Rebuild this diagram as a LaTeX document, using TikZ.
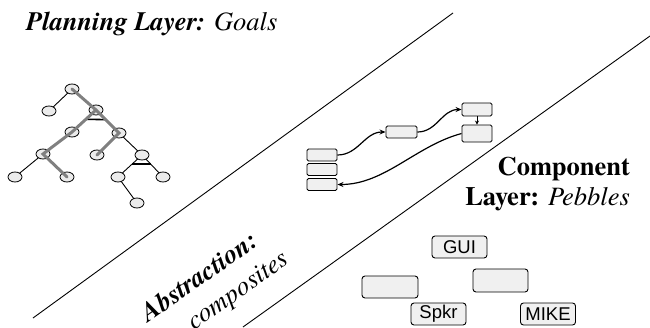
\documentclass[tikz,border=0pt]{standalone}
\usepackage{fontspec}
\setmainfont{texgyretermes}[Extension=.otf,UprightFont=*-regular,BoldFont=*-bold,ItalicFont=*-italic,BoldItalicFont=*-bolditalic]
\newfontfamily\boxfont{Liberation Sans}
\usetikzlibrary{arrows.meta,shapes.geometric,calc}
\begin{document}
\begin{tikzpicture}[x=1pt,y=1pt,
  tn/.style={ellipse,draw=black,line width=0.8pt,fill=black!8,minimum width=14pt,minimum height=10pt,inner sep=0pt},
  tedge/.style={draw=black,line width=0.9pt},
  hl/.style={draw=black!50,line width=3pt,line cap=round},
  andbar/.style={draw=black,line width=1.6pt},
  sbox/.style={draw=black,rounded corners=1.5pt,fill=black!6,line width=0.9pt,minimum width=30pt,minimum height=12pt,inner sep=0pt},
  cbox/.style={draw=black,rounded corners=3pt,fill=black!6,line width=0.9pt,minimum width=55pt,minimum height=22pt,inner sep=0pt,font=\boxfont\fontsize{18.5}{20}\selectfont},
  arr/.style={draw=black,line width=1.2pt,-{Stealth[length=6pt,width=5pt]}},
  big/.style={inner sep=0pt,font=\fontsize{26.5}{30}\selectfont}
]
\useasboundingbox (0,0) rectangle (650,-327);
% diagonal separators
\coordinate (l1a) at (33,-318);
\coordinate (l1b) at (453,-13);
\coordinate (l2a) at (243,-327);
\coordinate (l2b) at (650,-36);
\draw[line width=0.9pt] (l1a) -- (l1b);
\draw[line width=0.9pt] (l2a) -- (l2b);

% titles
\node[big,anchor=base west] (title) at (26,-30) {{\bfseries\itshape Planning Layer:} {\itshape Goals}};
\node[big,anchor=base east] (comp1) at (630,-175) {\bfseries Component};
\node[big,anchor=base east] (comp2) at (630,-205) {{\bfseries Layer:} {\itshape Pebbles}};
\node[big,rotate=35] (abs1) at (199,-276) {\bfseries\itshape Abstraction:};
\node[big,rotate=35] (abs2) at (239,-292) {\itshape composites};

% goal tree
\coordinate (A) at (72,-89);
\coordinate (B) at (49,-111);
\coordinate (C) at (96,-110);
\coordinate (D) at (72,-132);
\coordinate (E) at (119,-133);
\coordinate (F) at (43,-154);
\coordinate (G) at (97,-155);
\coordinate (H) at (142,-155);
\coordinate (I) at (15,-177);
\coordinate (J) at (67,-177);
\coordinate (K) at (118,-177);
\coordinate (L) at (163,-177);
\coordinate (M) at (137,-203);
\draw[tedge] (A) -- (B) (A) -- (C) (C) -- (D) (C) -- (E) (D) -- (F) (E) -- (G) (E) -- (H)
  (F) -- (I) (F) -- (J) (H) -- (K) (H) -- (L) (K) -- (M);
\draw[andbar] ($(C)!0.42!(D)$) -- ($(C)!0.42!(E)$);
\draw[andbar] ($(H)!0.42!(K)$) -- ($(H)!0.42!(L)$);
\foreach \n in {A,B,C,D,E,F,G,H,I,J,K,L,M} {\node[tn] (n\n) at (\n) {};}
\draw[hl] (nA.center) -- (nC.center) -- (nE.center) -- (nG.center);
\draw[hl] (nC.center) -- (nD.center) -- (nF.center) -- (nJ.center);

% composite pebble diagram
\node[sbox] (s1) at (322,-155) {};
\node[sbox] (s2) at (322,-169.5) {};
\node[sbox] (s3) at (322,-184.5) {};
\node[sbox,minimum width=31pt] (m) at (401.5,-132) {};
\node[sbox,minimum height=13pt] (t) at (477,-109.5) {};
\node[sbox,minimum height=17pt] (r) at (477,-133.5) {};
\draw[arr] (s1.east) to[out=0,in=180] (m.west);
\draw[arr] (m.east) to[out=0,in=180] (t.west);
\draw[draw=black,line width=1pt,-{Stealth[length=4pt,width=4pt]}] (t.south) -- (r.north);
\draw[arr] (r.west) to[out=195,in=0,looseness=0.9] (s3.east);

% component layer
\node[cbox] (gui) at (459.5,-247) {GUI};
\node[cbox,minimum width=56pt] (e1) at (390,-287) {};
\node[cbox,minimum height=23pt] (e2) at (500.5,-280.5) {};
\node[cbox] (spkr) at (438.5,-314) {Spkr};
\node[cbox] (mike) at (548,-314) {MIKE};
\end{tikzpicture}
\end{document}
